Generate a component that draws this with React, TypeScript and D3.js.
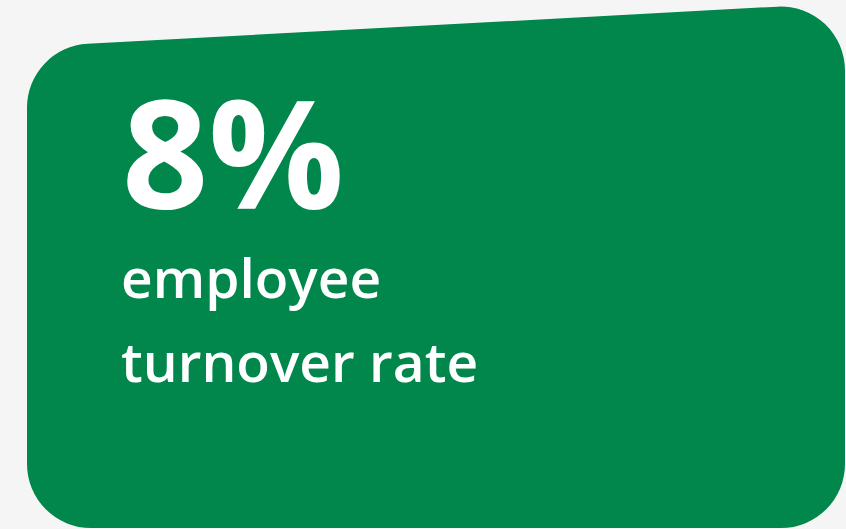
import * as d3 from "d3";

// card content
const headline = ["8%"];
const captionLines = ["employee", "turnover rate"];

const W = 846;
const H = 529;

// card outline: left/right/bottom edges and a slanted top edge
const left = 27;
const right = 845;
const bottom = 528;
const topAtLeft = 47;
const topAtRight = 3;
const radius = 64;

function cardPath() {
  const p = d3.path();
  const tl: [number, number] = [left, topAtLeft];
  const tr: [number, number] = [right, topAtRight];
  const br: [number, number] = [right, bottom];
  const bl: [number, number] = [left, bottom];
  p.moveTo(left, (topAtLeft + bottom) / 2);
  p.arcTo(tl[0], tl[1], tr[0], tr[1], radius);
  p.arcTo(tr[0], tr[1], br[0], br[1], radius);
  p.arcTo(br[0], br[1], bl[0], bl[1], radius);
  p.arcTo(bl[0], bl[1], tl[0], tl[1], radius);
  p.closePath();
  return p.toString();
}

export default function App() {
  const font = "'Open Sans', 'Noto Sans', sans-serif";
  return (
    <svg
      width={W}
      height={H}
      style={{ display: "block", position: "absolute", left: 0, top: 0 }}
    >
      <rect width={W} height={H} fill="#f5f5f5" />
      <path d={cardPath()} fill="#01864c" />
      <text
        x={122}
        y={209}
        fill="#ffffff"
        fontFamily={font}
        fontWeight={700}
        fontSize={151}
      >
        {headline[0]}
      </text>
      {captionLines.map((line, i) => (
        <text
          key={line}
          x={121}
          y={298 + i * 84}
          fill="#ffffff"
          fontFamily={font}
          fontWeight={600}
          fontSize={55}
        >
          {line}
        </text>
      ))}
    </svg>
  );
}
